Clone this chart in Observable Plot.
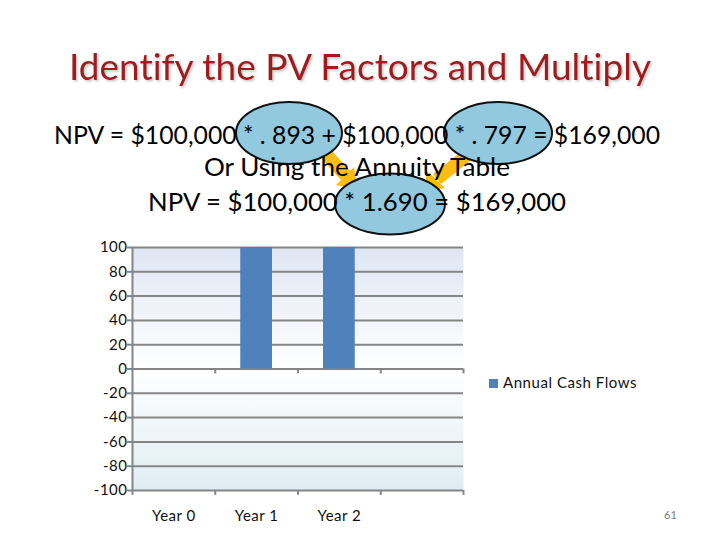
<!DOCTYPE html>
<html>
<head>
<meta charset="utf-8">
<script src="https://cdn.jsdelivr.net/npm/d3@7"></script>
<script src="https://cdn.jsdelivr.net/npm/@observablehq/plot@0.6"></script>
<style>
  html, body { margin: 0; padding: 0; background: #fff; }
  #page { position: relative; width: 720px; height: 540px; overflow: hidden; font-family: Lato, sans-serif; font-variant-ligatures: none; }
  #slide { position: absolute; left: 0; top: 0; display: block; }
  #chart { position: absolute; left: 0; top: 225px; }
  #legend { position: absolute; left: 489px; top: 373px; font-size: 15px; letter-spacing: 0.55px; color: #111; white-space: nowrap; line-height: 18px; }
  #legend i { display: inline-block; width: 9px; height: 9px; background: #4f81bd; margin-right: 5px; }
  #pageno { position: absolute; left: 664px; top: 508px; font-size: 11px; color: #7a7a7a; }
</style>
</head>
<body>
<div id="page">
  <svg id="slide" width="720" height="240" viewBox="0 0 720 240">
    <defs>
      <filter id="soft" x="-5%" y="-20%" width="110%" height="140%">
        <feDropShadow dx="1.5" dy="1.5" stdDeviation="1" flood-color="#999" flood-opacity="0.6"/>
      </filter>
    </defs>
    <g stroke="#fbbd14" stroke-width="13" fill="none">
      <line x1="327" y1="155" x2="346" y2="176"/>
      <line x1="466" y1="156" x2="437" y2="179"/>
    </g>
    <g fill="#fbbd14" stroke="none">
      <polygon points="354,167 336,185 358,190"/>
      <polygon points="427,171 445,188 424,192"/>
    </g>
    <g fill="#92c9de" stroke="#111" stroke-width="2">
      <ellipse cx="289" cy="133" rx="53" ry="31"/>
      <ellipse cx="498" cy="133" rx="54" ry="31"/>
      <ellipse cx="390" cy="204" rx="55" ry="30.5"/>
    </g>
    <text x="360" y="80" text-anchor="middle" font-size="36" fill="#a01a1e" filter="url(#soft)" textLength="582" lengthAdjust="spacingAndGlyphs">Identify the PV Factors and Multiply</text>
    <g font-size="25" fill="#000" text-anchor="middle">
      <text x="357" y="144" textLength="606" lengthAdjust="spacingAndGlyphs">NPV = $100,000 * . 893 + $100,000 * . 797 = $169,000</text>
      <text x="357" y="176" textLength="306" lengthAdjust="spacingAndGlyphs">Or Using the Annuity Table</text>
      <text x="357" y="211" textLength="418" lengthAdjust="spacingAndGlyphs">NPV = $100,000 * 1.690 =  $169,000</text>
    </g>
  </svg>
  <div id="chart"></div>
  <div id="legend"><i></i>Annual Cash Flows</div>
  <div id="pageno">61</div>
</div>
<script>
const categories = ["Year 0", "Year 1", "Year 2", ""];
const cashFlows = [0, 100, 100, null];
const yTicks = [100, 80, 60, 40, 20, 0, -20, -40, -60, -80, -100];
const seriesName = "Annual Cash Flows";

const axisColor = "#858585";
const band = 331 / categories.length;

const gradient = () => {
  const defs = d3.create("svg:defs");
  const g = defs.append("linearGradient")
    .attr("id", "plotBg").attr("x1", 0).attr("y1", 0).attr("x2", 0).attr("y2", 1);
  g.append("stop").attr("offset", "0%").attr("stop-color", "#dfe6f3");
  g.append("stop").attr("offset", "50%").attr("stop-color", "#ffffff");
  g.append("stop").attr("offset", "100%").attr("stop-color", "#deedf3");
  return defs.node();
};

const plot = Plot.plot({
  width: 720,
  height: 315,
  marginLeft: 132,
  marginRight: 257,
  marginTop: 22,
  marginBottom: 50,
  style: { background: "transparent", fontFamily: "Lato, sans-serif", fontSize: "15px", color: "#111", letterSpacing: "0.5px", fontVariantLigatures: "none" },
  x: { domain: categories, padding: 0, round: false, label: null },
  y: { domain: [-100, 100], label: null },
  marks: [
    gradient,
    Plot.frame({ fill: "url(#plotBg)", stroke: "none" }),
    Plot.ruleY(yTicks, { stroke: axisColor, strokeWidth: 2 }),
    Plot.ruleX(categories, { x: d => d, dx: band / 2, y1: 0, y2: -4, stroke: axisColor, strokeWidth: 2 }),
    Plot.ruleX(categories, { x: d => d, dx: band / 2, y1: -100, y2: -104, stroke: axisColor, strokeWidth: 2 }),
    Plot.barY(categories, {
      x: d => d,
      y: (d, i) => cashFlows[i],
      fill: "#4f81bd",
      insetLeft: 25.5,
      insetRight: 25.5
    }),
    Plot.ruleX([categories[0]], { x: d => d, dx: -band / 2, y1: 100, y2: -104, stroke: axisColor, strokeWidth: 2 }),
    Plot.axisY({ ticks: yTicks, tickSize: 5, tickPadding: 0, stroke: axisColor, strokeWidth: 2, tickFormat: d => String(d), label: null }),
    Plot.axisX({ tickSize: 0, tickPadding: 20, label: null })
  ]
});
document.getElementById("chart").append(plot);
document.getElementById("legend").lastChild.textContent = seriesName;
</script>
</body>
</html>
